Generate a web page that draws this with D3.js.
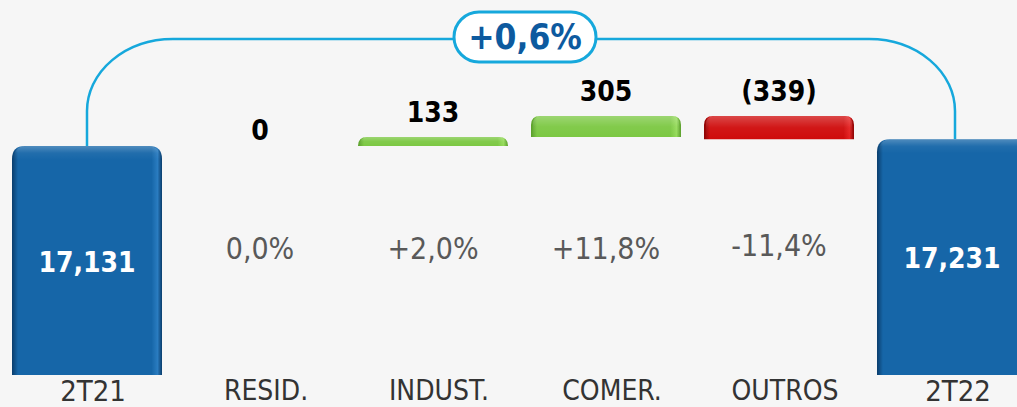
<!DOCTYPE html>
<html lang="pt">
<head>
<meta charset="UTF-8">
<title>Waterfall 2T21 x 2T22</title>
<script src="https://d3js.org/d3.v7.min.js"></script>
<style>
  body { margin: 0; background: #f6f6f6; }
  svg { display: block; }
  text { font-family: "DejaVu Sans Condensed", "DejaVu Sans", sans-serif; font-stretch: condensed; }
</style>
</head>
<body>
<script>
var w = 1017, h = 407;

// data
var categories = ["2T21", "RESID.", "INDUST.", "COMER.", "OUTROS", "2T22"];
var values = [17131, 0, 133, 305, -339, 17231];
var valueLabels = ["17,131", "0", "133", "305", "(339)", "17,231"];
var pctLabels = ["", "0,0%", "+2,0%", "+11,8%", "-11,4%", ""];
var totalLabel = "+0,6%";
var axisFloor = 13790; // broken axis, bars start here

// waterfall steps
var run = 0;
var steps = categories.map(function(c, i) {
    var isTotal = (i === 0 || i === categories.length - 1);
    var s, e;
    if (isTotal) { s = axisFloor; e = values[i]; run = values[i]; }
    else { s = run; e = run + values[i]; run = e; }
    return { cat: c, i: i, start: s, end: e, total: isTotal, value: values[i] };
});

var x = d3.scaleBand().domain(categories)
    .range([0.5, 1038.5]).paddingInner(23 / 173).paddingOuter(23 / 346);
var y = d3.scaleLinear().domain([axisFloor, 17569]).range([375, 116]);
var bw = x.bandwidth();

var svg = d3.select('body').append('svg').attr('width', w).attr('height', h);
svg.append('rect').attr('width', w).attr('height', h).attr('fill', '#f6f6f6');

var defs = svg.append('defs');
function hGrad(id, dark, main, light) {
    var g = defs.append('linearGradient').attr('id', id).attr('x1', 0).attr('x2', 1).attr('y1', 0).attr('y2', 0);
    [[0, dark], [0.04, main], [0.93, main], [0.97, light], [1, dark]].forEach(function(s) {
        g.append('stop').attr('offset', s[0]).attr('stop-color', s[1]);
    });
}
hGrad('gBlue', '#0a3d6c', '#1666a8', '#2a7cc0');
hGrad('gGreen', '#5a9e2c', '#7cc843', '#95db5a');
hGrad('gRed', '#8a0505', '#cf0b0b', '#e52020');

var shine = defs.append('linearGradient').attr('id', 'shine').attr('x1', 0).attr('x2', 0).attr('y1', 0).attr('y2', 1);
shine.append('stop').attr('offset', 0).attr('stop-color', '#fff').attr('stop-opacity', 0.25);
shine.append('stop').attr('offset', 0.5).attr('stop-color', '#fff').attr('stop-opacity', 0.05);
shine.append('stop').attr('offset', 1).attr('stop-color', '#fff').attr('stop-opacity', 0);

function barPath(x0, top, bottom, width, r) {
    r = Math.min(r, bottom - top, width / 2);
    return 'M' + x0 + ',' + bottom + 'V' + (top + r) +
        'Q' + x0 + ',' + top + ' ' + (x0 + r) + ',' + top +
        'H' + (x0 + width - r) +
        'Q' + (x0 + width) + ',' + top + ' ' + (x0 + width) + ',' + (top + r) +
        'V' + bottom + 'Z';
}

function fillFor(d) {
    if (d.total) return 'url(#gBlue)';
    return d.value >= 0 ? 'url(#gGreen)' : 'url(#gRed)';
}

// connector line between totals
var first = steps[0], last = steps[steps.length - 1];
var lx = x(first.cat) + bw / 2, rx = x(last.cat) + bw / 2 + 3;
var topY = 39, rX = 86, rY = 72;
var conn = 'M' + lx + ',' + y(first.end) + 'V' + (topY + rY) +
    'A' + rX + ',' + rY + ' 0 0 1 ' + (lx + rX) + ',' + topY +
    'H' + (rx - rX) +
    'A' + rX + ',' + rY + ' 0 0 1 ' + rx + ',' + (topY + rY) +
    'V' + y(last.end);
svg.append('path').attr('d', conn).attr('fill', 'none').attr('stroke', '#16a8dc').attr('stroke-width', 2.5);

var midX = (lx + rx) / 2 + 4;
svg.append('rect').attr('x', midX - 71).attr('y', 12).attr('width', 142).attr('height', 50)
    .attr('rx', 25).attr('fill', '#fff').attr('stroke', '#16a8dc').attr('stroke-width', 3);
svg.append('text').attr('x', midX).attr('y', 49).attr('text-anchor', 'middle')
    .attr('font-size', 35).attr('font-weight', 'bold').attr('fill', '#0d5a9f').text(totalLabel);

// bars
var bars = svg.selectAll('g.bar').data(steps.filter(function(d) { return d.start !== d.end; }))
    .enter().append('g').attr('class', 'bar');
bars.append('path')
    .attr('d', function(d) {
        var top = y(Math.max(d.start, d.end)), bottom = y(Math.min(d.start, d.end));
        return barPath(x(d.cat), top, bottom, bw, d.total ? 13 : 9);
    })
    .attr('fill', fillFor);
bars.append('path')
    .attr('d', function(d) {
        var top = y(Math.max(d.start, d.end)), bottom = y(Math.min(d.start, d.end));
        var hh = d.total ? 14 : (bottom - top);
        return barPath(x(d.cat) + 2, top, top + hh, bw - 4, d.total ? 12 : 8);
    })
    .attr('fill', 'url(#shine)');

// value labels
svg.selectAll('text.val').data(steps).enter().append('text')
    .attr('class', 'val')
    .attr('x', function(d) { return x(d.cat) + bw / 2; })
    .attr('y', function(d) {
        if (d.total) return (y(d.end) + y(d.start)) / 2 + 11;
        var top = y(Math.max(d.start, d.end));
        return top - (d.value === 0 ? 6 : 15);
    })
    .attr('text-anchor', 'middle')
    .attr('font-size', 28).attr('font-weight', 'bold')
    .attr('fill', function(d) { return d.total ? '#fff' : '#000'; })
    .text(function(d, i) { return valueLabels[i]; });

// percent labels
svg.selectAll('text.pct').data(steps.filter(function(d) { return pctLabels[d.i]; })).enter().append('text')
    .attr('class', 'pct')
    .attr('x', function(d) { return x(d.cat) + bw / 2; })
    .attr('y', function(d) { return d.value < 0 ? 256 : 259; })
    .attr('text-anchor', 'middle')
    .attr('font-size', 30).attr('fill', '#595959')
    .text(function(d) { return pctLabels[d.i]; });

// category axis
var axis = d3.axisBottom(x).tickSize(0).tickPadding(0);
var ax = svg.append('g').attr('transform', 'translate(0,375)').call(axis);
ax.select('.domain').remove();
ax.selectAll('text')
    .attr('y', function(d, i) { return (i === 0 || i === categories.length - 1) ? 26 : 25; })
    .attr('dy', 0)
    .attr('dx', 6)
    .attr('font-size', function(d, i) { return (i === 0 || i === categories.length - 1) ? 29 : 28; })
    .attr('font-family', '"DejaVu Sans Condensed", "DejaVu Sans", sans-serif')
    .attr('fill', '#333');
</script>
</body>
</html>
